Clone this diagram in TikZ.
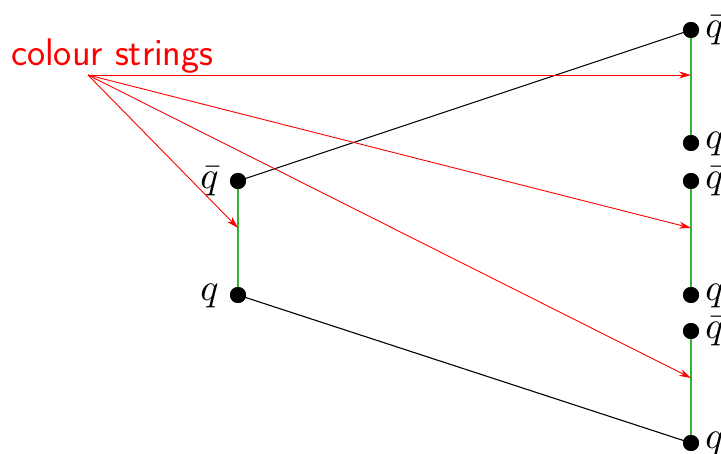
\documentclass[tikz,border=0pt]{standalone}
\usetikzlibrary{arrows.meta}
\definecolor{strgreen}{RGB}{50,180,50}
\newcommand{\biglab}[1]{\scalebox{3.8}{$#1$}}
\begin{document}
\begin{tikzpicture}[x=1pt,y=-1pt,
  dot/.style={circle,fill=black,inner sep=0pt,minimum size=16pt},
  qlab/.style={inner sep=0pt},
  string/.style={strgreen,line width=1.8pt},
  meson/.style={black,line width=1.1pt},
  colarrow/.style={red,line width=0.9pt,-{Stealth[length=12pt,width=7pt]}}]
\useasboundingbox (0,0) rectangle (721,454);
% dots
\node[dot] (Lqb) at (238,181) {};
\node[dot] (Lq)  at (238,295) {};
\node[dot] (R1b) at (691,30) {};
\node[dot] (R1)  at (691,143) {};
\node[dot] (R2b) at (691,181) {};
\node[dot] (R2)  at (691,295) {};
\node[dot] (R3b) at (691,331) {};
\node[dot] (R3)  at (691,443) {};
% labels
\node[qlab,anchor=east] at ([xshift=-11pt]Lqb.west) {\biglab{\bar q}};
\node[qlab,anchor=east] at ([xshift=-11pt,yshift=-1pt]Lq.west) {\biglab{q}};
\node[qlab,anchor=west] at ([xshift=6pt]R1b.east) {\biglab{\bar q}};
\node[qlab,anchor=west] at ([xshift=6pt,yshift=-1pt]R1.east) {\biglab{q}};
\node[qlab,anchor=west] at ([xshift=6pt]R2b.east) {\biglab{\bar q}};
\node[qlab,anchor=west] at ([xshift=6pt,yshift=-1pt]R2.east) {\biglab{q}};
\node[qlab,anchor=west] at ([xshift=6pt]R3b.east) {\biglab{\bar q}};
\node[qlab,anchor=west] at ([xshift=6pt,yshift=-1pt]R3.east) {\biglab{q}};
% strings
\draw[string] (Lqb.center) -- (Lq.center);
\draw[string] (R1b.center) -- (R1.center);
\draw[string] (R2b.center) -- (R2.center);
\draw[string] (R3b.center) -- (R3.center);
\draw[meson] (Lqb.center) -- (R1b.center);
\draw[meson] (Lq.center) -- (R3.center);
% colour strings label and arrows
\node[red,font=\sffamily\fontsize{38.5}{42}\selectfont,anchor=base west,inner sep=0pt] (cs) at (11,66) {colour strings};
\coordinate (o) at (88,75);
\coordinate (t0) at (238,228);
\coordinate (t1) at (691,75);
\coordinate (t2) at (691,228);
\coordinate (t3) at (691,378);
\draw[colarrow] (o) -- (t1);
\draw[colarrow] (o) -- (t0);
\draw[colarrow] (o) -- (t2);
\draw[colarrow] (o) -- (t3);
% dots on top
\foreach \n in {Lqb,Lq,R1b,R1,R2b,R2,R3b,R3} \fill (\n) circle (8pt);
\end{tikzpicture}
\end{document}
